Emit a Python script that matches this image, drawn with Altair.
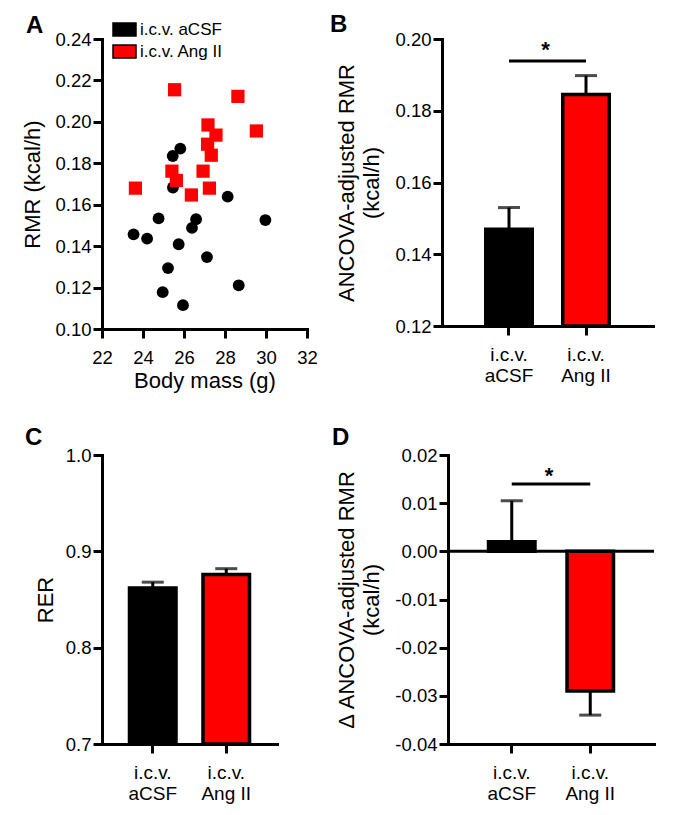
import altair as alt
import pandas as pd

FONT = "Liberation Sans"
groups = ["i.c.v. aCSF", "i.c.v. Ang II"]
fills = ["#000000", "#ff0000"]
panel_letters = ["A", "B", "C", "D"]

# Panel A: body mass (g) vs RMR (kcal/h)
acsf_mass = [23.54, 24.20, 24.76, 24.96, 25.22, 25.45, 25.82, 25.46, 25.95, 25.74, 26.39, 26.59, 27.12, 28.13, 28.67, 29.97]
acsf_rmr = [0.1457, 0.1436, 0.1534, 0.1178, 0.1294, 0.1835, 0.1871, 0.1683, 0.1115, 0.1409, 0.1488, 0.1530, 0.1347, 0.1639, 0.1211, 0.1526]
ang_mass = [23.63, 25.54, 25.41, 25.63, 26.36, 26.93, 27.24, 27.17, 27.15, 27.33, 27.56, 28.63, 29.53]
ang_rmr = [0.1680, 0.2155, 0.1762, 0.1717, 0.1647, 0.1762, 0.1680, 0.1985, 0.1892, 0.1839, 0.1936, 0.2123, 0.1956]
a_x_ticks = [22, 24, 26, 28, 30, 32]
a_y_ticks = [0.10, 0.12, 0.14, 0.16, 0.18, 0.20, 0.22, 0.24]

# Panel B: ANCOVA-adjusted RMR
rmr_adj_mean = [0.147, 0.1845]
rmr_adj_sem = [0.006, 0.0053]
b_ticks = [0.12, 0.14, 0.16, 0.18, 0.20]

# Panel C: RER
rer_mean = [0.862, 0.876]
rer_sem = [0.006, 0.006]
c_ticks = [0.7, 0.8, 0.9, 1.0]

# Panel D: delta ANCOVA-adjusted RMR
delta_mean = [0.002, -0.029]
delta_sem = [0.0085, 0.005]
d_ticks = [-0.04, -0.03, -0.02, -0.01, 0.00, 0.01, 0.02]

MINUS = "\u2212"


def num_axis(values, fmt, tp):
    return alt.Axis(values=values, titlePadding=tp,
                    labelExpr=f"replace(format(datum.value, '{fmt}'), '{MINUS}', '-')")


def letter_layer(letter, lx, ly):
    return alt.Chart(pd.DataFrame({"letter": [letter]})).mark_text(
        align="left", baseline="alphabetic", fontSize=24, fontWeight="bold",
        font=FONT, color="black"
    ).encode(text="letter:N", x=alt.value(lx), y=alt.value(ly))


# ---------- Panel A ----------
dfA1 = pd.DataFrame({"mass": acsf_mass, "rmr": acsf_rmr, "group": [groups[0]] * len(acsf_mass)})
dfA2 = pd.DataFrame({"mass": ang_mass, "rmr": ang_rmr, "group": [groups[1]] * len(ang_mass)})

xA = alt.X("mass:Q", scale=alt.Scale(domain=[22, 32], nice=False, zero=False),
           axis=alt.Axis(values=a_x_ticks, format="d", labelFlush=False), title="Body mass (g)")
yA = alt.Y("rmr:Q", scale=alt.Scale(domain=[0.10, 0.24], nice=False, zero=False),
           axis=num_axis(a_y_ticks, ".2f", 10), title="RMR (kcal/h)")
legendA = alt.Legend(title=None, orient="none", legendX=10, legendY=-22,
                     symbolType="M-1,-0.565H1V0.565H-1Z", symbolSize=529,
                     symbolStrokeColor="black", symbolStrokeWidth=1.5,
                     labelFont=FONT, labelFontSize=17, labelColor="black",
                     labelOffset=3, rowPadding=-2, padding=0)
colorA = alt.Color("group:N", scale=alt.Scale(domain=groups, range=fills), legend=legendA)

circles = alt.Chart(dfA1).mark_circle(size=140, opacity=1).encode(x=xA, y=yA, color=colorA)
squares = alt.Chart(dfA2).mark_square(size=175, opacity=1).encode(x=xA, y=yA, color=colorA)
panelA = alt.layer(circles, squares, letter_layer(panel_letters[0], -76, -6)).properties(width=205, height=290)


# ---------- bar panels ----------
cat_axis = alt.Axis(labelAngle=0, labelFontSize=19, labelLineHeight=21,
                    labelExpr="[slice(datum.value, 0, 6), slice(datum.value, 7)]")


def bar_panel(means, sems, domain, ticks, fmt, title, tp, width, height,
              pad_in, pad_out, letter, lx, ly, sig_y=None, star_y=None, zero_line=False):
    base = domain[0] if domain[0] > 0 else 0.0
    err = [m + (s if m >= 0 else -s) for m, s in zip(means, sems)]
    df = pd.DataFrame({"group": groups, "mean": means, "err": err,
                       "base": [base] * len(groups), "fill": fills})
    x = alt.X("group:N", scale=alt.Scale(domain=groups, paddingInner=pad_in, paddingOuter=pad_out),
              axis=cat_axis, title=None)
    ysc = alt.Scale(domain=domain, nice=False, zero=False)
    yax = num_axis(ticks, fmt, tp)

    def Y(field):
        return alt.Y(field, scale=ysc, axis=yax, title=title)

    layers = []
    layers.append(alt.Chart(df).mark_rule(color="black", strokeWidth=3).encode(x=x, y=Y("mean:Q"), y2="err:Q"))
    layers.append(alt.Chart(df).mark_bar(stroke="black", strokeWidth=3.5, strokeJoin="miter").encode(
        x=x, y=Y("mean:Q"), y2="base:Q", fill=alt.Fill("fill:N", scale=None)))
    layers.append(alt.Chart(df).mark_tick(color="black", thickness=3, size=22).encode(x=x, y=Y("err:Q")))
    if zero_line:
        layers.append(alt.Chart(pd.DataFrame({"z": [0.0]})).mark_rule(color="black", strokeWidth=3)
                      .encode(y=Y("z:Q")))
    if sig_y is not None:
        step = width / (len(groups) - pad_in + 2 * pad_out)
        dsig = pd.DataFrame({"group": [groups[0]], "group2": [groups[1]], "sy": [sig_y], "ty": [star_y]})
        layers.append(alt.Chart(dsig).mark_rule(color="black", strokeWidth=3).encode(
            x=x, x2="group2:N", y=Y("sy:Q")))
        layers.append(alt.Chart(dsig).mark_text(text="*", fontSize=22, fontWeight="bold", font=FONT,
                                                color="black", baseline="middle", dx=step / 2 - 2)
                      .encode(x=x, y=Y("ty:Q")))
    layers.append(letter_layer(letter, lx, ly))
    return alt.layer(*layers).properties(width=width, height=height)


panelB = bar_panel(rmr_adj_mean, rmr_adj_sem, [0.12, 0.20], b_ticks, ".2f",
                   ["ANCOVA-adjusted RMR", "(kcal/h)"], 11, 211, 287, 0.396, 0.568,
                   panel_letters[1], -112, -7, sig_y=0.1939, star_y=0.1968)
panelC = bar_panel(rer_mean, rer_sem, [0.7, 1.0], c_ticks, ".1f", "RER", 8, 175, 289,
                   0.367, 0.374, panel_letters[2], -77, -10)
panelD = bar_panel(delta_mean, delta_sem, [-0.04, 0.02], d_ticks, ".2f",
                   ["\u0394 ANCOVA-adjusted RMR", "(kcal/h)"], 11, 206, 289, 0.408, 0.516,
                   panel_letters[3], -116, -10, sig_y=0.014, star_y=0.0157, zero_line=True)

ind = dict(x="independent", y="independent", color="independent")
row1 = alt.hconcat(panelA, panelB, spacing=12).resolve_scale(**ind)
row2 = alt.hconcat(panelC, panelD, spacing=55).resolve_scale(**ind)

chart = alt.vconcat(row1, row2, spacing=34).resolve_scale(**ind).properties(
    padding={"left": 13, "top": 5, "right": 5, "bottom": 5}
).configure_axis(
    domainColor="black", domainWidth=3, domainCap="square", tickColor="black", tickWidth=3,
    tickSize=9, labelFont=FONT, labelFontSize=18.5, labelColor="black", titleFont=FONT,
    titleFontSize=22, titleFontWeight="normal", titleColor="black", grid=False
).configure_axisX(labelPadding=10, titlePadding=4).configure_axisY(
    labelPadding=2, titleLineHeight=25
).configure_view(stroke=None)

chart.save("out.html", embed_options={"renderer": "svg", "actions": False})
